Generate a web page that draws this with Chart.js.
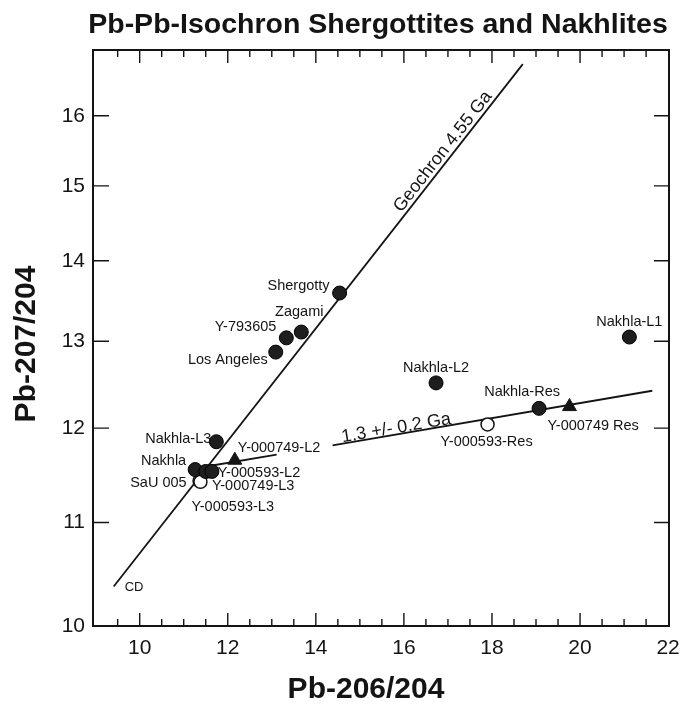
<!DOCTYPE html>
<html>
<head>
<meta charset="utf-8">
<script src="https://cdn.jsdelivr.net/npm/chart.js@4.4.1/dist/chart.umd.min.js"></script>
<style>
  html, body { margin: 0; padding: 0; background: #fff; }
  canvas { display: block; }
</style>
</head>
<body>
<canvas id="chart" width="681" height="710"></canvas>
<script>
const titleText = "Pb-Pb-Isochron Shergottites and Nakhlites";
const xTitle = "Pb-206/204";
const yTitle = "Pb-207/204";

// tick labels
const xTicks = [10, 12, 14, 16, 18, 20, 22];
const yTicks = [10, 11, 12, 13, 14, 15, 16];

// filled circles
const filledNames = ["Shergotty", "Zagami", "Y-793605", "Los Angeles", "Nakhla-L1", "Nakhla-L2",
  "Nakhla-Res", "Nakhla-L3", "Nakhla", "Y-000593-L2", "Y-000749-L3"];
const filledX = [14.54, 13.67, 13.33, 13.09, 21.12, 16.73, 19.07, 11.74, 11.26, 11.50, 11.64];
const filledY = [13.59, 13.11, 13.04, 12.87, 13.05, 12.51, 12.22, 11.85, 11.55, 11.53, 11.53];

// open circles
const openNames = ["Y-000593-Res", "SaU 005", "Y-000593-L3"];
const openX = [17.90, 11.36, 11.38];
const openY = [12.04, 11.43, 11.42];

// triangles
const triNames = ["Y-000749-L2", "Y-000749 Res"];
const triX = [12.16, 19.76];
const triY = [11.65, 12.24];

// reference lines
const geochronX = [9.41, 18.70];
const geochronY = [10.37, 16.78];
const isochronX = [11.48, 13.11, 14.38, 21.64];
const isochronY = [11.58, 11.71, 11.81, 12.42];

const FONT = '"Liberation Sans", Arial, Helvetica, sans-serif';
const INK = "#141414";

const toPoints = (xs, ys) => xs.map((x, i) => ({x, y: ys[i]}));

// isochron is broken where the Y-000749-L2 label sits
const isochronData = toPoints(isochronX, isochronY);
isochronData.splice(2, 0, {x: isochronX[1], y: null});

// where each sample label sits relative to its symbol (px)
const labelPlace = {
  "Shergotty": [-10, -7, "right"],
  "Zagami": [-2, -20, "center"],
  "Y-793605": [-10, -11, "right"],
  "Los Angeles": [-8, 8, "right"],
  "Nakhla-L1": [0, -15, "center"],
  "Nakhla-L2": [0, -15, "center"],
  "Nakhla-Res": [-17, -16, "center"],
  "Nakhla-L3": [-5, -3, "right"],
  "Nakhla": [-9, -9, "right"],
  "Y-000593-L2": [12, 2, "left"],
  "Y-000749-L3": [0, 15, "left"],
  "Y-000593-Res": [-1, 18, "center"],
  "SaU 005": [-13, 2, "right"],
  "Y-000593-L3": [-9, 25, "left"],
  "Y-000749-L2": [3, -12, "left"],
  "Y-000749 Res": [-22, 19, "left"],
};

const groups = [filledNames, openNames, triNames];

const annotations = {
  id: "annotations",
  afterDraw(chart) {
    const {ctx, chartArea: a, scales: {x, y}} = chart;
    ctx.save();

    // frame
    ctx.strokeStyle = INK;
    ctx.lineWidth = 2;
    ctx.strokeRect(a.left, a.top, a.right - a.left, a.bottom - a.top);

    // inward ticks
    ctx.lineWidth = 1.4;
    ctx.beginPath();
    for (let v = 9.5; v < 22; v += 0.5) {
      const px = x.getPixelForValue(v);
      const len = v % 2 === 0 ? 13 : 7;
      ctx.moveTo(px, a.bottom);
      ctx.lineTo(px, a.bottom - len);
      ctx.moveTo(px, a.top);
      ctx.lineTo(px, a.top + len);
    }
    yTicks.slice(1).forEach(v => {
      const py = y.getPixelForValue(v);
      ctx.moveTo(a.left, py);
      ctx.lineTo(a.left + 16, py);
      ctx.moveTo(a.right, py);
      ctx.lineTo(a.right - 15, py);
    });
    ctx.stroke();

    ctx.fillStyle = INK;

    // sample labels
    ctx.font = "14.5px " + FONT;
    ctx.textBaseline = "middle";
    groups.forEach((names, di) => {
      const meta = chart.getDatasetMeta(di);
      names.forEach((name, i) => {
        const el = meta.data[i];
        const [dx, dy, align] = labelPlace[name];
        ctx.textAlign = align;
        ctx.fillText(name, el.x + dx, el.y + dy);
      });
    });

    // CD at the low end of the geochron
    const g0x = x.getPixelForValue(geochronX[0]);
    const g0y = y.getPixelForValue(geochronY[0]);
    ctx.font = "13px " + FONT;
    ctx.textAlign = "left";
    ctx.fillText("CD", g0x + 11, g0y + 1);

    // line labels along the lines
    const along = (lx, ly, t, text, size, lift) => {
      const x0 = x.getPixelForValue(lx[0]), y0 = y.getPixelForValue(ly[0]);
      const x1 = x.getPixelForValue(lx[lx.length - 1]), y1 = y.getPixelForValue(ly[ly.length - 1]);
      ctx.save();
      ctx.translate(x0 + (x1 - x0) * t, y0 + (y1 - y0) * t);
      ctx.rotate(Math.atan2(y1 - y0, x1 - x0));
      ctx.font = size + "px " + FONT;
      ctx.textAlign = "center";
      ctx.textBaseline = "alphabetic";
      ctx.fillText(text, 0, -lift);
      ctx.restore();
    };
    along(geochronX, geochronY, 0.822, "Geochron 4.55 Ga", 18, 4);
    along(isochronX, isochronY, 0.43, "1.3 +/- 0.2 Ga", 18, 1);

    // titles
    ctx.textAlign = "center";
    ctx.textBaseline = "middle";
    ctx.font = "bold 28.5px " + FONT;
    ctx.fillText(titleText, 378, 25);
    ctx.font = "bold 30px " + FONT;
    ctx.fillText(xTitle, 366, 690);
    ctx.save();
    ctx.translate(27, 344);
    ctx.rotate(-Math.PI / 2);
    ctx.fillText(yTitle, 0, 0);
    ctx.restore();

    ctx.restore();
  }
};

new Chart(document.getElementById("chart"), {
  type: "scatter",
  data: {
    datasets: [
      {
        data: toPoints(filledX, filledY),
        pointStyle: "circle",
        pointRadius: 7,
        backgroundColor: "#1e1e1e",
        borderColor: "#000",
        borderWidth: 1,
      },
      {
        data: toPoints(openX, openY),
        pointStyle: "circle",
        pointRadius: 6.5,
        backgroundColor: "#fff",
        borderColor: INK,
        borderWidth: 1.5,
      },
      {
        data: toPoints(triX, triY),
        pointStyle: "triangle",
        pointRadius: 8,
        backgroundColor: INK,
        borderColor: INK,
        borderWidth: 1,
      },
      {
        data: toPoints(geochronX, geochronY),
        showLine: true,
        pointRadius: 0,
        borderColor: INK,
        borderWidth: 1.8,
      },
      {
        data: isochronData,
        showLine: true,
        spanGaps: false,
        pointRadius: 0,
        borderColor: INK,
        borderWidth: 1.8,
      },
    ]
  },
  options: {
    responsive: false,
    animation: false,
    layout: {padding: {top: 50, right: 12, left: 0, bottom: 0}},
    plugins: {
      legend: {display: false},
      tooltip: {enabled: false},
    },
    scales: {
      x: {
        type: "linear",
        min: 8.94,
        max: 22.02,
        grid: {display: false, drawTicks: false},
        border: {display: false},
        afterFit: s => { s.height = 84; s.paddingLeft = 0; s.paddingRight = 0; },
        afterBuildTicks: s => { s.ticks = xTicks.map(value => ({value})); },
        ticks: {
          autoSkip: false,
          padding: 10,
          color: INK,
          font: {family: FONT, size: 21},
          callback: v => String(v),
        },
      },
      y: {
        type: "logarithmic",
        min: 10,
        max: 17,
        grid: {display: false, drawTicks: false},
        border: {display: false},
        afterFit: s => { s.width = 93; s.paddingTop = 0; s.paddingBottom = 0; },
        afterBuildTicks: s => { s.ticks = yTicks.map(value => ({value})); },
        ticks: {
          autoSkip: false,
          padding: 8,
          color: INK,
          font: {family: FONT, size: 21},
          callback: v => String(v),
        },
      },
    },
  },
  plugins: [annotations],
});
</script>
</body>
</html>
